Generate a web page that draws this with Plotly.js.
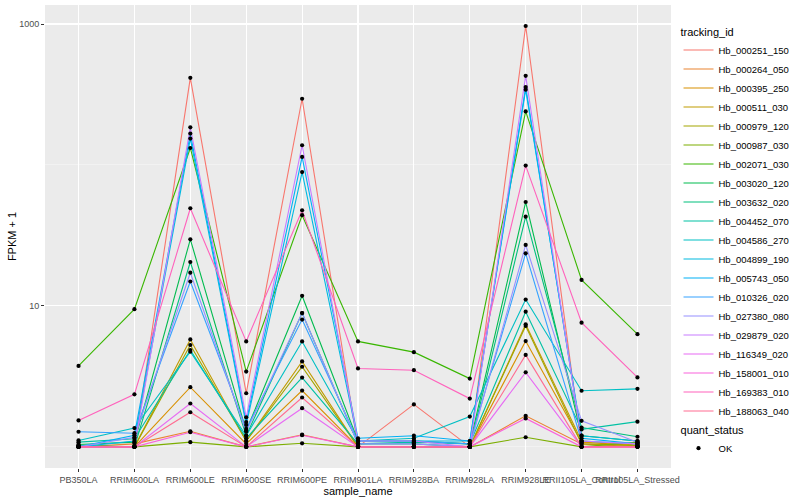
<!DOCTYPE html>
<html>
<head>
<meta charset="utf-8">
<script src="https://cdn.plot.ly/plotly-3.0.1.min.js"></script>
<style>html,body{margin:0;padding:0;background:#fff;}#chart{width:800px;height:500px;}</style>
</head>
<body>
<div id="chart"></div>
<script>
// x categories
const samples = ["PB350LA","RRIM600LA","RRIM600LE","RRIM600SE","RRIM600PE","RRIM901LA","RRIM928BA","RRIM928LA","RRIM928LE","RRII105LA_Control","RRII105LA_Stressed"];

// FPKM + 1 per tracking_id (order of samples above)
const Hb_000251_150 = [1.00, 1.00, 415, 2.40, 295, 1.00, 2.00, 1.00, 968, 1.00, 1.00];
const Hb_000264_050 = [1.00, 1.05, 1.29, 1.00, 1.22, 1.00, 1.00, 1.00, 1.66, 1.05, 1.00];
const Hb_000395_250 = [1.00, 1.00, 2.65, 1.05, 2.51, 1.00, 1.00, 1.00, 5.63, 1.08, 1.02];
const Hb_000511_030 = [1.00, 1.00, 5.78, 1.10, 4.04, 1.00, 1.00, 1.00, 7.40, 1.10, 1.03];
const Hb_000979_120 = [1.00, 1.00, 5.28, 1.10, 3.70, 1.00, 1.00, 1.00, 7.20, 1.05, 1.02];
const Hb_000987_030 = [1.00, 1.00, 1.08, 1.00, 1.06, 1.00, 1.00, 1.00, 1.17, 1.00, 1.08];
const Hb_002071_030 = [3.75, 9.48, 132, 3.42, 44.0, 5.60, 4.70, 3.05, 240, 15.3, 6.30];
const Hb_003020_120 = [1.04, 1.08, 29.7, 1.30, 11.8, 1.10, 1.10, 1.05, 54.6, 1.20, 1.10];
const Hb_003632_020 = [1.02, 1.00, 20.5, 1.20, 8.90, 1.05, 1.05, 1.00, 43.0, 1.37, 1.18];
const Hb_004452_070 = [1.08, 1.14, 4.86, 1.15, 3.10, 1.05, 1.08, 1.05, 9.10, 1.33, 1.51];
const Hb_004586_270 = [1.11, 1.36, 4.73, 1.20, 5.60, 1.10, 1.15, 1.64, 11.1, 2.50, 2.58];
const Hb_004899_190 = [1.00, 1.10, 154, 1.43, 89.0, 1.10, 1.10, 1.10, 342, 1.20, 1.10];
const Hb_005743_050 = [1.00, 1.21, 167, 1.50, 114, 1.15, 1.20, 1.10, 357, 1.15, 1.05];
const Hb_010326_020 = [1.28, 1.25, 14.9, 1.34, 8.00, 1.10, 1.10, 1.05, 23.6, 1.10, 1.05];
const Hb_027380_080 = [1.00, 1.17, 17.2, 1.28, 8.90, 1.05, 1.05, 1.00, 27.1, 1.53, 1.08];
const Hb_029879_020 = [1.00, 1.00, 185, 1.62, 138, 1.10, 1.10, 1.00, 429, 1.10, 1.05];
const Hb_116349_020 = [1.00, 1.00, 2.03, 1.00, 1.88, 1.00, 1.00, 1.00, 3.38, 1.00, 1.00];
const Hb_158001_010 = [1.00, 1.00, 1.27, 1.00, 1.21, 1.00, 1.00, 1.00, 1.59, 1.00, 1.00];
const Hb_169383_010 = [1.54, 2.36, 49.3, 5.60, 47.7, 3.60, 3.50, 2.20, 99.0, 7.60, 3.11];
const Hb_188063_040 = [1.00, 1.00, 1.76, 1.00, 2.24, 1.00, 1.00, 1.00, 4.49, 1.00, 1.00];

const trackingIds = ["Hb_000251_150","Hb_000264_050","Hb_000395_250","Hb_000511_030","Hb_000979_120","Hb_000987_030","Hb_002071_030","Hb_003020_120","Hb_003632_020","Hb_004452_070","Hb_004586_270","Hb_004899_190","Hb_005743_050","Hb_010326_020","Hb_027380_080","Hb_029879_020","Hb_116349_020","Hb_158001_010","Hb_169383_010","Hb_188063_040"];
const seriesValues = [Hb_000251_150,Hb_000264_050,Hb_000395_250,Hb_000511_030,Hb_000979_120,Hb_000987_030,Hb_002071_030,Hb_003020_120,Hb_003632_020,Hb_004452_070,Hb_004586_270,Hb_004899_190,Hb_005743_050,Hb_010326_020,Hb_027380_080,Hb_029879_020,Hb_116349_020,Hb_158001_010,Hb_169383_010,Hb_188063_040];
const quantStatus = ["OK"];

// ggplot2 default hue palette for 20 levels
const hueColors = ["#F8766D","#EA8331","#D89000","#C09B00","#A3A500","#7CAE00","#39B600","#00BB4E","#00BF7D","#00C1A3","#00BFC4","#00BAE0","#00B0F6","#35A2FF","#9590FF","#C77CFF","#E76BF3","#FA62DB","#FF62BC","#FF6C91"];

const font = "Liberation Sans, Arial, Helvetica, sans-serif";
const traces = [];
trackingIds.forEach((id, i) => {
  traces.push({
    type: "scatter", mode: "lines", name: id,
    x: samples, y: seriesValues[i],
    line: {color: hueColors[i], width: 1.1},
    legend: "legend", hoverinfo: "skip"
  });
});
const px = [], py = [];
seriesValues.forEach(v => v.forEach((val, j) => { px.push(samples[j]); py.push(val); }));
traces.push({
  type: "scatter", mode: "markers", name: quantStatus[0],
  x: px, y: py,
  marker: {color: "#000000", size: 4.2, symbol: "circle"},
  legend: "legend2", hoverinfo: "skip"
});

const layout = {
  width: 800, height: 500,
  margin: {l: 45, r: 117, t: 5, b: 32},
  paper_bgcolor: "#FFFFFF", plot_bgcolor: "#EBEBEB",
  font: {family: font, size: 9, color: "#000"},
  showlegend: true,
  xaxis: {
    type: "category", range: [-0.6, 10.6],
    showgrid: true, gridcolor: "#FFFFFF", gridwidth: 1.1,
    zeroline: false, showline: false,
    ticks: "outside", ticklen: 3, tickcolor: "#333333", tickwidth: 1,
    tickangle: 0, tickfont: {family: font, size: 9, color: "#4D4D4D"},
    title: {text: "sample_name", font: {family: font, size: 11, color: "#000"}, standoff: 2}
  },
  yaxis: {
    type: "log", range: [-0.15, 3.135],
    tickmode: "array", tickvals: [10, 1000], ticktext: ["10", "1000"],
    showgrid: true, gridcolor: "#FFFFFF", gridwidth: 1.1,
    minor: {tickmode: "array", tickvals: [1, 100], showgrid: true, gridcolor: "#F7F7F7", gridwidth: 0.6, ticklen: 0},
    zeroline: false, showline: false,
    ticks: "outside", ticklen: 3, tickcolor: "#333333", tickwidth: 1,
    tickfont: {family: font, size: 9, color: "#4D4D4D"},
    title: {text: "FPKM + 1", font: {family: font, size: 11, color: "#000"}, standoff: 0}
  },
  legend: {
    title: {text: "tracking_id", font: {family: font, size: 11, color: "#000"}},
    x: 1.012, xanchor: "left", y: 0.965, yanchor: "top",
    font: {family: font, size: 9.5, color: "#000"},
    bgcolor: "rgba(0,0,0,0)", itemwidth: 30, tracegroupgap: 0
  },
  legend2: {
    title: {text: "quant_status", font: {family: font, size: 11, color: "#000"}},
    x: 1.012, xanchor: "left", y: 0.105, yanchor: "top",
    font: {family: font, size: 9.5, color: "#000"},
    bgcolor: "rgba(0,0,0,0)", itemwidth: 30
  }
};

Plotly.newPlot("chart", traces, layout, {displayModeBar: false, staticPlot: true});
</script>
</body>
</html>
